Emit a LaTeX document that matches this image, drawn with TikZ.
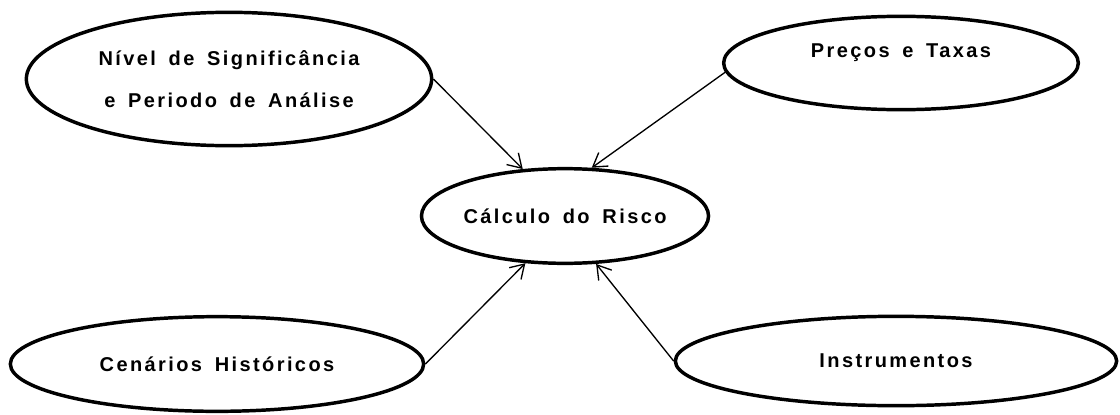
\documentclass[tikz,border=0pt]{standalone}
\usepackage{fontspec}
\setmainfont{Liberation Sans}
\newfontfamily\lblfont[LetterSpace=12, WordSpace=1.6]{Liberation Sans}
\usepackage{tikz}
\usetikzlibrary{shapes.geometric, arrows.meta, positioning}
\tikzstyle{arrow}=[-{Straight Barb[length=10pt, width=12.5pt]}, line width=1pt, color=black]

\begin{document}
\begin{tikzpicture}[x=0.75pt, y=-0.75pt,
  ebox/.style={ellipse, draw=black, line width=2.6pt, inner sep=0pt,
               align=center, font=\fontsize{15}{31.5}\lblfont\bfseries}
]
\useasboundingbox (0,0) rectangle (1120,414);

\node[ebox, minimum width=304pt, minimum height=100pt] (sig_n)  at (229,79)
     {N\'ivel de Signific\^ancia\\e Periodo de An\'alise};
\node[ebox, minimum width=266pt, minimum height=70pt, text depth=18pt] (prc_n) at (901,63)
     {Pre\c{c}os e Taxas};
\node[ebox, minimum width=212pt, minimum height=71pt] (risk_n) at (565,216)
     {C\'alculo do Risco};
\node[ebox, minimum width=310pt, minimum height=71pt] (hist_n) at (217,364)
     {Cen\'arios Hist\'oricos};
\node[ebox, minimum width=331pt, minimum height=67pt] (inst_n) at (896,361)
     {Instrumentos};

\draw[arrow] (sig_n.east)  -- (risk_n.132);
\draw[arrow] (prc_n.183)   -- (risk_n.61);
\draw[arrow] (hist_n.east) -- (risk_n.-130);
\draw[arrow] (inst_n.west) -- (risk_n.-57);
\end{tikzpicture}
\end{document}
